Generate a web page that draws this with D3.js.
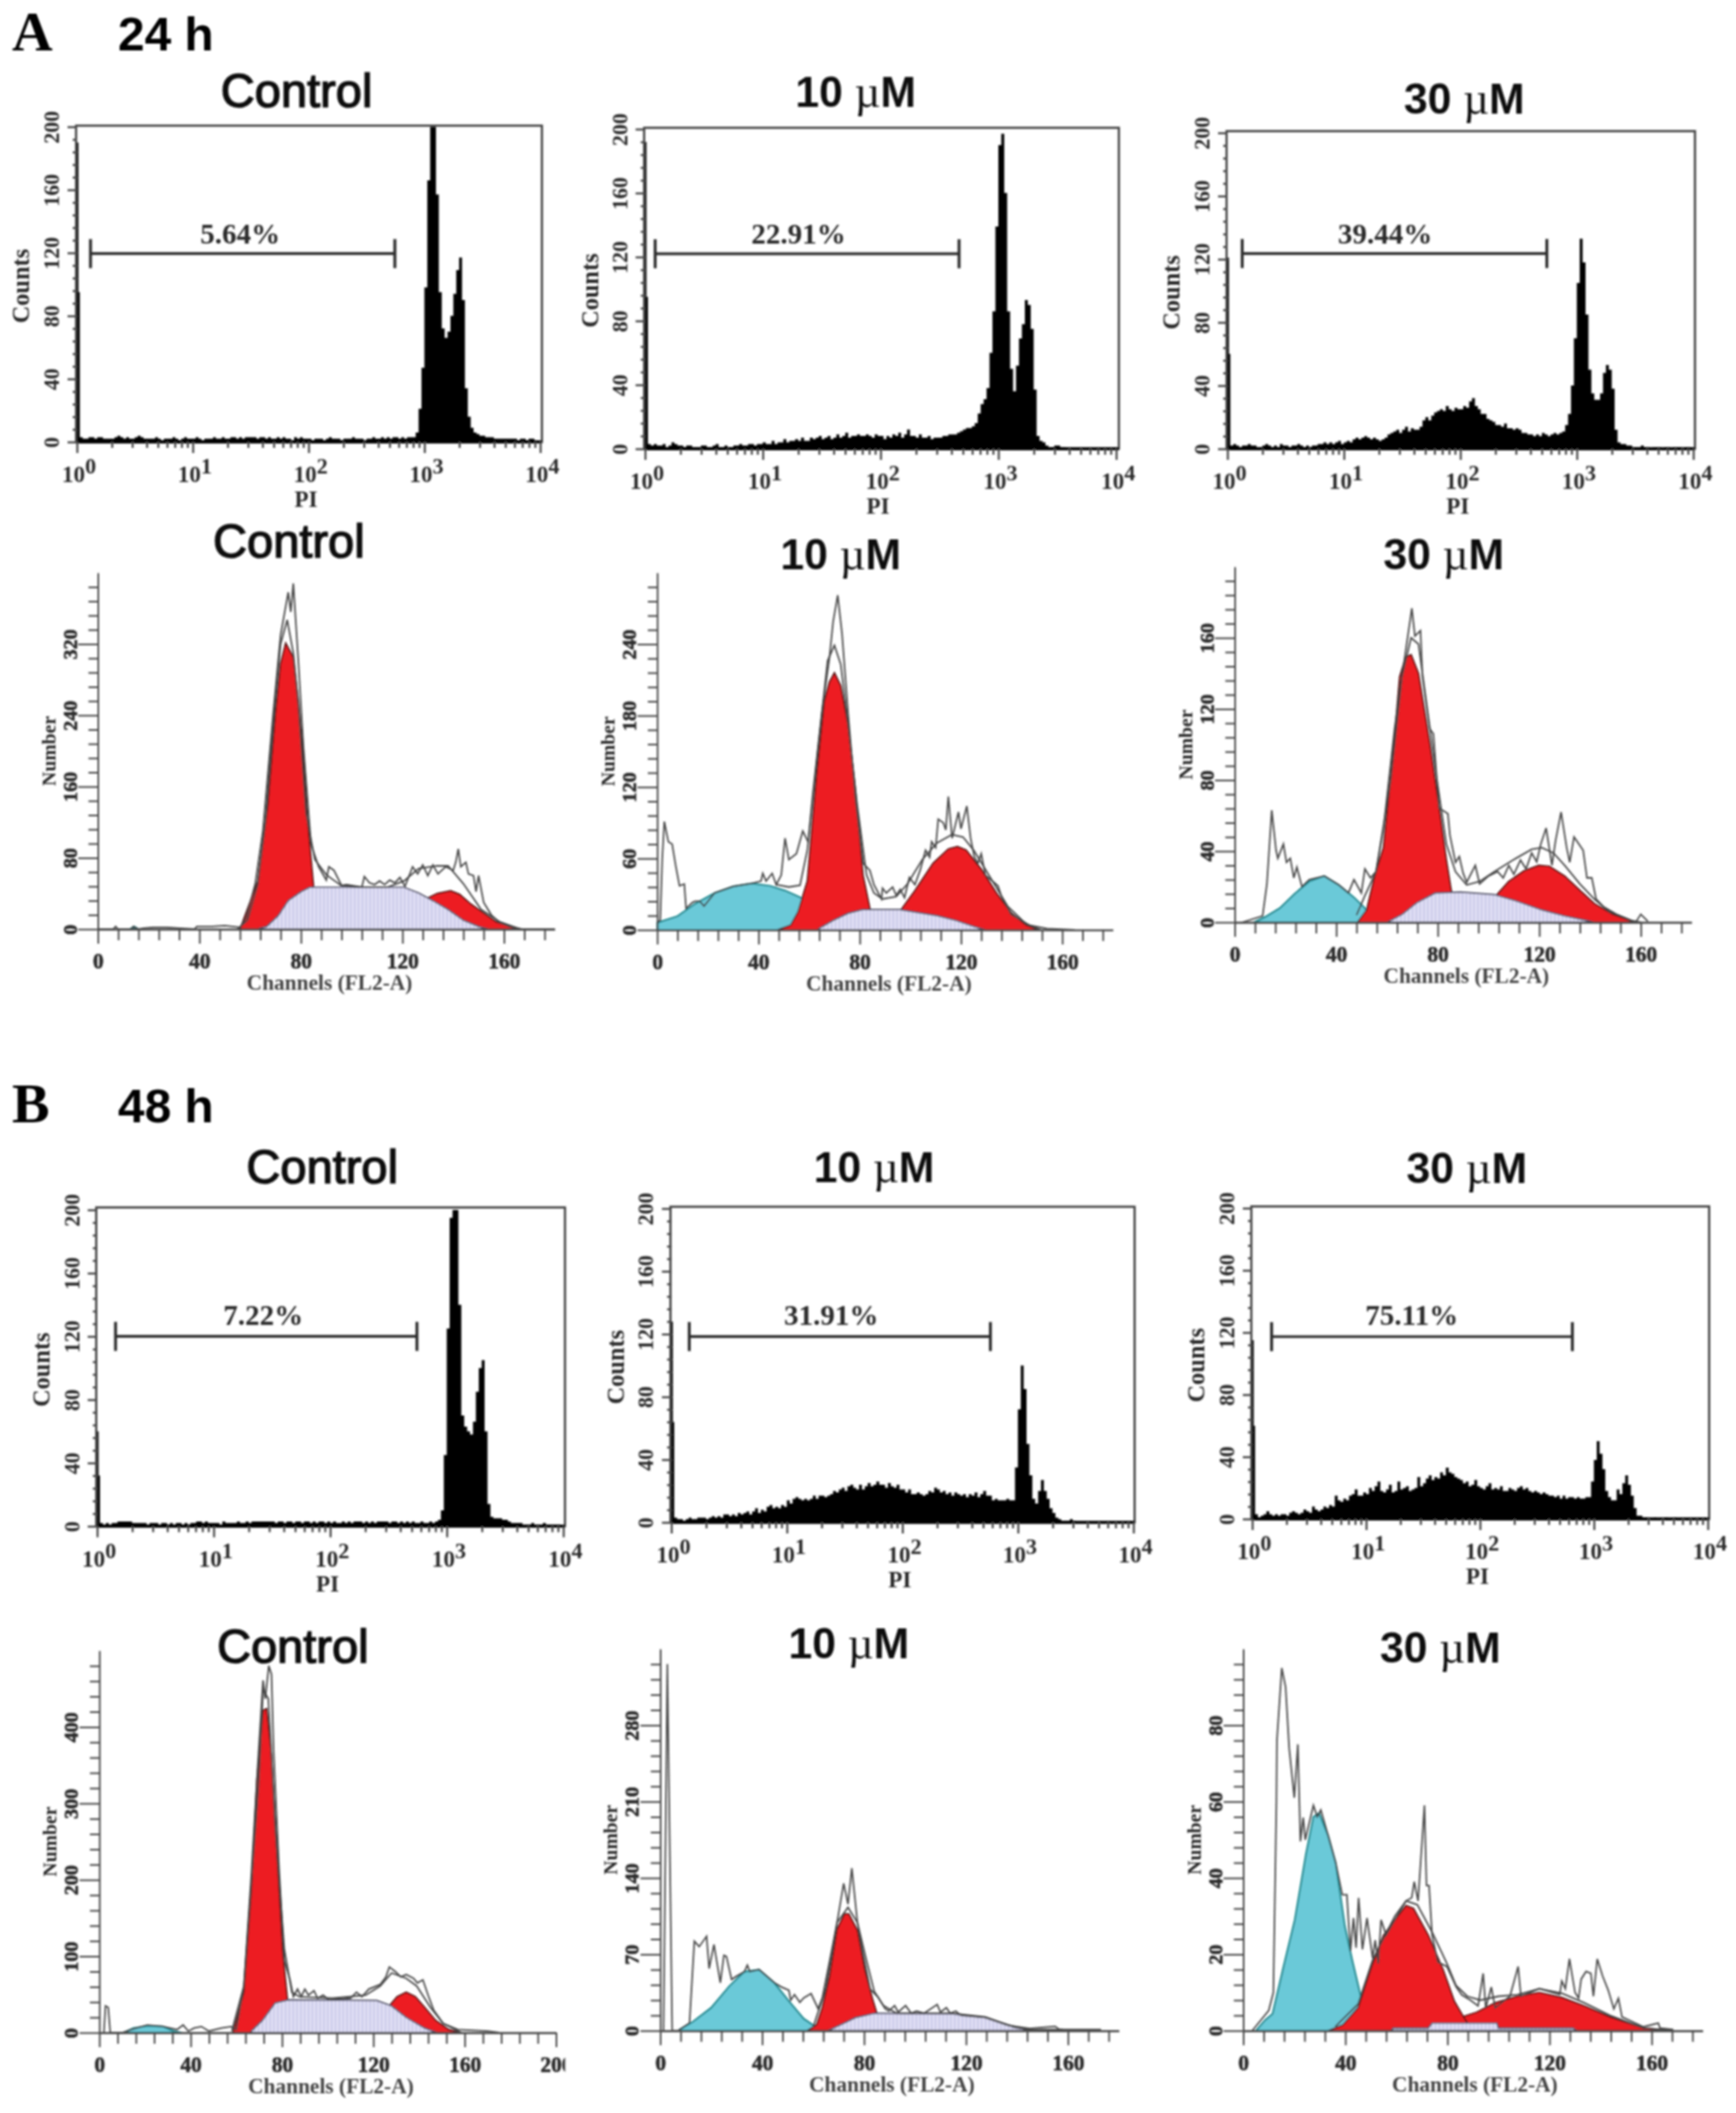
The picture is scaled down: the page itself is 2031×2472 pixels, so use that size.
<!DOCTYPE html>
<html>
<head>
<meta charset="utf-8">
<style>
  html, body { margin: 0; background: #fff; }
  text { fill: #2b2b2b; }
  .serif { font-family: "Liberation Serif", serif; font-weight: bold; }
  .sans { font-family: "Liberation Sans", sans-serif; }
  .tick line, .domain { stroke: #4a4a4a; }
</style>
</head>
<body>
<svg id="fig" width="2031" height="2472"></svg>
<script src="https://cdn.jsdelivr.net/npm/d3@7/dist/d3.min.js"></script>
<script>
// DNA histograms, one value per 1/40 of a log decade
const h24Control = [95,3,2,2,3,3,2,3,3,2,2,2,2,3,4,3,2,3,2,2,
  3,4,3,2,2,2,2,3,2,1,2,2,2,3,2,1,2,3,2,2,
  2,3,2,1,2,2,2,3,2,2,3,2,2,3,3,2,3,2,3,3,
  3,3,2,3,3,2,3,2,2,3,2,3,2,2,1,3,2,3,2,2,
  2,1,2,2,2,1,2,3,2,2,2,1,2,2,2,3,2,2,2,1,
  2,2,3,2,2,3,2,3,2,3,3,2,3,2,3,3,3,6,21,47,
  98,166,200,200,157,95,72,66,70,80,94,109,117,90,34,16,9,6,5,4,
  4,3,3,3,2,2,2,2,2,2,2,2,1,2,2,1,2,2,1,2]
const h24Low = [95,3,2,3,2,2,3,1,2,4,3,2,2,1,2,2,1,1,1,2,
  2,1,1,2,3,1,1,2,1,1,2,2,3,2,2,3,3,2,3,3,
  4,3,3,5,3,4,4,6,4,5,5,6,5,7,5,5,7,6,7,8,
  6,7,8,6,7,9,7,8,10,7,8,8,9,8,8,9,8,7,9,8,
  8,6,8,7,9,8,10,7,9,12,8,8,7,9,7,7,8,6,7,7,
  7,8,8,9,9,9,10,11,12,13,13,14,16,22,28,31,38,60,86,139,
  190,197,160,86,50,36,52,69,78,93,90,75,37,8,5,4,2,1,1,2,
  2,1,1,0,0,0,0,0,0,0,0,0,0,0,0,0,0,0,0,0]
const h24High = [60,2,3,2,1,2,2,3,2,2,1,1,2,3,2,1,2,1,3,2,
  2,1,2,2,3,2,1,2,1,2,2,3,3,4,3,4,3,4,5,3,
  4,5,4,6,7,6,7,8,7,6,7,6,5,6,7,9,10,11,12,10,
  12,14,11,13,12,12,14,18,20,18,21,23,24,25,24,27,25,24,26,25,
  25,27,26,30,32,27,25,22,22,19,18,17,15,15,14,16,13,13,12,13,
  12,10,10,9,9,8,9,8,10,9,8,9,10,9,10,11,15,22,40,70,
  105,133,118,85,50,35,31,31,35,48,53,50,38,12,4,3,3,2,2,1,
  1,1,2,1,1,0,1,1,1,0,1,1,0,1,1,1,0,1,1,0]
const h48Control = [32,2,1,2,1,2,2,3,3,3,3,3,2,2,2,2,2,1,2,2,
  2,1,2,2,1,2,1,2,2,1,2,1,2,2,3,3,2,3,2,2,
  2,2,1,3,2,2,2,2,3,2,2,3,2,3,3,3,3,3,3,3,
  3,2,3,3,2,3,3,2,3,3,2,3,3,2,3,2,3,3,2,3,
  2,3,2,2,3,2,3,2,3,3,3,2,3,2,3,2,3,3,3,3,
  2,3,3,2,3,2,3,2,3,2,2,3,2,2,3,2,3,4,10,45,
  125,195,200,200,140,70,63,60,58,66,85,100,105,60,14,6,5,5,5,4,
  4,3,2,2,2,2,1,1,1,2,1,1,1,2,1,1,1,1,1,1]
const h48Low = [64,3,2,2,1,2,3,2,2,3,3,3,2,3,4,3,4,3,5,5,
  4,5,4,6,5,6,7,5,7,9,6,8,7,10,11,9,10,9,11,10,
  14,12,15,16,15,14,15,14,15,17,15,17,17,16,17,18,20,19,21,22,
  20,23,24,22,21,24,21,23,25,23,24,26,24,24,22,25,23,22,24,21,
  21,19,21,18,18,19,18,17,18,20,19,22,21,19,20,18,19,17,19,18,
  17,18,16,18,17,19,16,18,20,17,17,14,15,14,14,14,15,14,14,35,
  72,100,85,50,30,15,12,20,27,20,15,9,6,3,2,1,1,1,2,1,
  0,0,0,0,0,0,0,0,0,0,0,0,0,0,0,0,0,0,0,0]
const h48High = [60,3,1,2,3,5,3,2,3,2,3,3,2,4,5,4,3,4,6,5,
  4,8,6,5,6,8,7,9,8,15,12,11,13,12,15,16,19,15,15,17,
  16,20,18,21,24,18,17,19,22,17,18,24,19,20,21,18,19,20,27,21,
  23,26,28,25,27,26,30,28,33,30,29,27,26,25,23,24,21,22,25,21,
  20,19,21,23,19,20,19,21,18,18,20,19,18,20,21,19,20,18,17,18,
  17,16,17,16,15,15,14,15,13,15,13,14,14,13,14,13,13,14,14,24,
  38,50,42,32,18,14,12,12,19,16,23,28,22,15,7,2,2,1,1,0,
  0,1,0,0,0,1,0,0,1,0,0,0,0,0,0,0,0,0,0,0]

// thin spike sitting on the 10^0 line of each histogram
const edgeSpikes = [190, 192, 121, 60, 128, 115]
const histSeries = [h24Control, h24Low, h24High, h48Control, h48Low, h48High]
const histTitles = ["Control", "10 µM", "30 µM", "Control", "10 µM", "30 µM"]
const gateLabels = ["5.64%", "22.91%", "39.44%", "7.22%", "31.91%", "75.11%"]
const gateStart = [1.31, 1.22, 1.34, 1.44, 1.43, 1.48]
const gateEnd = [556, 464, 553, 555, 578, 647]
const gateCount = [119.5, 122, 123.6, 120, 118.4, 117.3]
const decades = [1, 10, 100, 1000, 10000]
const countTicks = [0, 40, 80, 120, 160, 200]

// cell cycle fits, [channel, number]
const c24ControlRaw = [[0,0],[6,0],[7,3],[8,0],[13,0],[14,3],[16,0],[18,1],[22,2],[27,2],[32,1],[38,0],[39,3],[45,3],[50,4],[56,2],[58.5,13],[62,51],[65,110],[69,240],[72,330],[75,378],[76,356],[77,388],[79,300],[81,205],[84,95],[87,70],[90,55],[91,70],[93,66],[96,49],[98,50],[104,47],[105,59],[107,52],[109,50],[111,54],[113,50],[115,55],[117,52],[119,58],[121,48],[124,70],[126,62],[128,72],[130,60],[132,72],[134,62],[137,70],[140,66],[141,75],[142,90],[143,70],[145,75],[146,62],[148,60],[149,42],[150,60],[152,30],[155,16],[158,8],[162,3],[167,0],[180,0]]
const c24ControlFit = [[55,0],[59,10],[63,50],[66,120],[70,260],[72,320],[74.6,347],[77,310],[79,250],[82,130],[85.5,78],[90,61],[95.8,49],[104,47],[114,47],[120.6,54],[126.4,68],[133.7,71],[138,71],[144,51],[151,22],[158.5,8],[166.6,0]]
const c24ControlDebris = [[12.5,0],[14.3,3],[16,0]]
const c24ControlG1 = [[56,0],[63,54],[67,140],[70,243],[72,298],[74,321],[77,305],[79,256],[80.5,208],[82.6,123],[85,47],[88,30],[92,10],[96,0]]
const c24ControlS = [[63.6,1],[66.5,3],[71,15],[75,32],[80,42],[83.4,47],[120.6,47],[126.4,40.5],[132,32],[138,22],[144,10],[150,3],[154,0]]
const c24ControlG2 = [[126,0],[130,35],[133.7,40],[139,43],[142.5,39],[147,28],[151,20],[157,8],[163,3],[166.6,0]]

const c24LowRaw = [[0,6],[1.2,8],[2,60],[2.8,91],[4.4,74],[5.9,72],[7.3,54],[8.8,37],[10.7,38.5],[11.4,18],[13.9,23],[15,24],[16.8,24],[18.5,20],[22.7,31],[30,36.5],[37.3,39],[41,41],[41.7,47.5],[43,41],[45.4,47.5],[47,38],[49,46],[50.5,77],[52,59],[55,64],[57.5,83],[59.6,74],[61.5,115],[65,182],[68,228],[69.5,259],[71.3,281],[73,249],[75.4,182],[78.3,110],[81.3,56],[84,50],[85.6,38],[88.6,26],[89,35],[90.5,31],[93,36],[94.4,29],[96,34],[97.7,27],[99.6,44],[101.8,38],[104,51],[106,67],[107.6,61],[108.4,74],[110,69],[111,93],[113,90],[114,84],[115,112],[116.5,77],[119,99],[120,85],[122.3,104],[123.8,77],[125.3,61],[126.7,56],[128,64],[129.6,46],[132.4,41],[134.6,37],[136,28],[139.8,13],[147,4],[154,1],[165,0]]
const c24LowFit = [[47,38],[52,36],[56.4,37.5],[59.3,67],[63.7,156],[67.3,226],[70,239],[72.5,223],[75.4,172],[79,105],[82.7,46],[85.6,31],[89,26],[94.4,28],[98.8,38.5],[104.7,59],[110.5,73],[116.4,80],[120.8,78],[125,67],[131,46],[138.4,20],[145.7,5],[151.5,0]]
const c24LowDebris = [[0,6],[8,11.5],[15,22],[22.7,31],[30,36.5],[37.3,39],[44.6,37],[50.5,33],[57.8,26],[64,13],[70,2],[72,0]]
const c24LowG1 = [[47.6,0],[52.7,4],[55.6,15],[59.3,41],[63,131],[66,192],[68,208],[70,216],[72.5,205],[75.4,172],[78.3,118],[81.3,46],[84,18],[87,5],[90,0]]
const c24LowS = [[63.7,1],[69.5,8],[75.4,14],[81,17],[96,17],[110.5,12],[118,8],[125,3],[129.6,0]]
const c24LowG2 = [[92,0],[96,16],[101.8,33],[109,56],[115,68],[118.6,70],[122,67],[128,51],[134,31],[140,14],[145.7,4],[150.8,0]]

const c24HighRaw = [[3,0],[11,3.6],[12.7,21.6],[14.6,63],[16.3,40.5],[17,36],[19.2,44],[20.4,33.7],[21.9,36],[23.3,25],[24.5,31],[26.5,20],[29.4,24],[35.3,26],[41,21],[44.8,16.5],[47,24],[49.9,16.5],[51.3,30],[53.5,25],[55.7,28.5],[58.6,52.6],[63,109],[67.3,152],[69.8,176.6],[71,161],[73.2,164],[74,138],[76.8,109],[78.3,106],[80.5,64],[82,63],[84,61],[84.8,49],[87,33.7],[88.5,37],[90,27.7],[91.4,22.5],[94.8,32],[96.5,21.6],[100,26],[103.6,28.5],[105.8,25],[108,32],[110,27],[112.6,35],[114.8,30],[117,39],[119,34],[120.6,44],[122.7,53],[125,32],[126.4,45.7],[128.6,62],[130.8,42],[132,33.7],[133.7,48],[137.3,40.5],[138.8,25],[140.7,25],[142.4,13],[145.3,8.8],[150.4,4.5],[158,0],[160,4.5],[162.8,0.5]]
const c24HighFit = [[48,4],[51.3,15],[55.7,28.5],[61.5,80],[65.9,138],[69.5,160],[72.4,156.5],[75.4,125],[79,87],[83.4,44],[87,28.5],[91.4,21],[96.5,23],[102.3,28.5],[109.6,35],[117,41],[121,42],[125.6,39],[130,32],[136,21.6],[141.7,13],[147.5,6],[156.3,1],[160,0]]
const c24HighDebris = [[7.6,0],[12,3],[17.8,8],[23.6,16],[29.4,23],[35.3,26],[41,21],[47,14],[51.3,8],[55.7,0]]
const c24HighG1 = [[48.4,0],[52,7],[55,25],[58.6,42],[62.2,92],[65,138],[67.3,149],[69.5,150.5],[72.4,140],[76.8,101],[80.5,65],[83.4,35],[85.3,18],[88.5,4],[91.4,0]]
const c24HighS = [[60,0],[66,4.5],[71.7,11],[79,16.5],[89,17],[102.3,15.6],[111,12],[121,7],[130,3.6],[138.8,1],[141.7,0]]
const c24HighG2 = [[99,0],[103,15],[108,23],[114,29],[119.8,32],[124,31.5],[130,26],[136,18],[141.7,10.5],[149,4.5],[156.3,0.7],[159,0]]

const c48ControlRaw = [[2,0],[2.7,35],[3.9,33],[4.8,0],[10,0],[14,4],[21,10],[28,8],[34,4],[36.7,10],[39,2],[41.5,6],[44.7,8],[48,2],[53.5,6],[57.7,8],[60,4],[63.3,61],[66.6,208],[69,331],[71.7,461],[72.7,437],[74.2,480],[75.4,469],[76.3,371],[78.7,216],[81,94],[83.5,69],[85,47],[86.8,57],[88.4,47],[90,57],[91.6,49],[94,55],[95.6,45],[98,49],[100.5,43],[110,45],[112.6,53],[115,47],[118,57],[123,63],[125.5,73],[127,86],[129.6,80],[132,73],[134.4,76],[137.6,71],[139.3,65],[141.7,69],[144,49],[146.5,29],[150.6,12],[157,4],[170,2],[175,0]]
const c48ControlFit = [[58,2],[63.3,61],[69.8,327],[71.7,449],[74,437],[77,269],[81,110],[84.3,53],[87.6,47],[102,45],[116.6,49],[123,61],[128,78],[134.4,71],[139,61],[145,33],[150.6,12],[158.6,0]]
const c48ControlDebris = [[10.8,0],[14.9,6],[21.3,9],[27.8,8],[32.6,2],[36,0]]
const c48ControlG1 = [[58.5,0],[63.3,53],[66.6,188],[69,331],[71.7,422],[73.3,424],[75.4,363],[77.9,229],[80.3,106],[82.4,43],[84,20],[87.6,0]]
const c48ControlS = [[66.6,2],[71.4,16],[77,39],[82.7,43],[121.5,42],[128,35],[134.4,20],[142.5,6],[148,0]]
const c48ControlG2 = [[124,0],[127,35],[130.4,47],[134.4,53],[138.4,47],[142.5,33],[147.3,16],[153,4],[158.6,0]]

const c48LowRaw = [[1.3,0],[2.8,336],[4.7,0],[7,0],[11.5,7],[13.4,82],[15.3,77],[18.2,86.5],[19.2,57],[21.1,79],[23.6,44],[25,69],[26,68],[28,47],[30,50],[33,54],[34.2,60],[35.2,54],[38.8,56],[44.7,44],[47.6,40],[50.5,37],[51.2,28],[52.7,33],[54.8,26],[56.3,30],[59.2,34],[62,20],[63.6,30],[66.5,64],[69.4,99],[72,135],[73.7,116],[75.2,149],[77.4,99],[79.6,70],[82.4,38],[85.4,31],[88.3,20],[89.7,18],[92,23],[93.4,17],[96.3,23],[98.5,16],[100.6,18],[103.6,16],[108.7,24],[110,17],[112.3,21],[113.8,16],[116,18],[118,14],[127.6,12],[136.3,5],[145,2],[155,4],[156.7,1],[173,1]]
const c48LowFit = [[60,3],[65,38.5],[69.4,99],[73.7,113],[77.4,99],[81,64],[84,36],[87.6,23],[92.7,16],[114.5,16],[127.6,12.5],[139,3],[145,1],[158,1]]
const c48LowDebris = [[7.6,1],[12.7,8],[20,21],[27.2,41],[33,54],[38.8,56],[44.7,44],[50.5,27],[56.3,11],[60.7,4],[63.6,0]]
const c48LowG1 = [[57.7,0],[61.4,5.5],[63.6,21],[66.5,50],[69.4,93],[72.3,107],[74,107],[77.4,92],[80.3,56],[83.2,30],[85,16],[87.6,5.5],[91.2,0]]
const c48LowS = [[65.7,0],[70.8,5.5],[76.6,12],[84,16],[114.5,15.5],[127.6,12],[136.3,5.5],[145,0]]

const c48HighRaw = [[3.5,0],[10,5.3],[11.8,10],[13,60],[13.2,76],[15.1,95],[16.6,90],[18,74],[20,61],[21.4,75],[22.4,49.6],[23.5,55.8],[24.3,50],[27.5,59],[29,56],[30.4,57.8],[33.3,51],[36.2,44],[38.8,35.6],[40.6,35.6],[42,20.9],[43.2,29.5],[44.2,21.7],[45.2,34.8],[46.7,21.3],[48.5,29.5],[50.7,19],[51.7,23.7],[52.9,17.6],[54,29],[56,25],[59.4,29],[63.8,34],[66,34.8],[67,39],[68.5,34],[71,59],[71.8,38],[72.8,38],[74,25],[76.2,18],[79.8,16.8],[83.4,11.5],[85.6,9.4],[89,8],[92,6.5],[94,15],[95,6],[97.2,11.4],[98.7,6],[104.5,9],[107.7,16.8],[108.8,9],[116,11],[124,9.5],[124.8,13],[126.2,11],[127.8,18.8],[130,10],[131.4,8.5],[132.4,13.5],[134.3,15.5],[136.2,15],[137.2,9],[138.7,18.8],[140.8,14.3],[143,10.6],[145.2,5.7],[147,8.5],[148.4,3.6],[156.8,1],[162.6,2],[163.3,0.7],[168.5,0.3]]
const c48HighFit = [[36,1],[45,7],[50.7,18.5],[59.4,30],[63.8,34],[68.2,33],[74,25.8],[79.8,17.6],[83.4,11.8],[87.8,9],[92.9,8],[100,9],[107.4,9.4],[116,11],[124.8,9.8],[133.6,7.3],[143.7,4],[156.8,0.7],[168,0]]
const c48HighDebris = [[5,0],[8.6,2.8],[11.5,4.4],[15.8,16.8],[20.2,29],[24.6,46.3],[27.5,56],[29.7,57],[33.3,51],[36.2,44],[39.8,27.4],[42.7,18.4],[46.4,8],[50.7,1.5],[52,0]]
const c48HighG1 = [[33.3,0],[39,1.5],[45,6],[50.7,17.6],[55,25],[59.4,29],[63.8,32.8],[66.7,32],[72.5,25],[78.3,16],[82.7,7.7],[86.3,3.6],[90,0]]
const c48HighG2 = [[81,0],[82,2.8],[91.4,4.8],[98.7,7.3],[107.4,9],[116,10],[124.8,8.7],[133.6,6.5],[143.7,3.6],[156.8,0.7],[168.5,0]]
const c48HighS = [[58,0],[58.7,0.7],[72.5,0.7],[74,2],[99.4,2],[100,0.7],[129.2,0.7],[130.7,0]]

const cycleRaw = [c24ControlRaw, c24LowRaw, c24HighRaw, c48ControlRaw, c48LowRaw, c48HighRaw]
const cycleFit = [c24ControlFit, c24LowFit, c24HighFit, c48ControlFit, c48LowFit, c48HighFit]
const cycleDebris = [c24ControlDebris, c24LowDebris, c24HighDebris, c48ControlDebris, c48LowDebris, c48HighDebris]
const cycleG1 = [c24ControlG1, c24LowG1, c24HighG1, c48ControlG1, c48LowG1, c48HighG1]
const cycleS = [c24ControlS, c24LowS, c24HighS, c48ControlS, c48LowS, c48HighS]
const cycleG2 = [c24ControlG2, c24LowG2, c24HighG2, c48ControlG2, [], c48HighG2]
const cycleMax = [400, 300, 200, 500, 350, 100]
const cycleStep = [80, 60, 40, 100, 70, 20]
const channelMax = [180, 180, 180, 200, 180, 180]

// layout in page pixels
const histBox = [
  { left: 90, right: 632, frameRight: 634, top: 148.3, frameTop: 147, bottom: 517, titleX: 347, titleY: 125, gateDx: -3, gateDy: -12, countsX: -56 },
  { left: 754.6, right: 1305.8, frameRight: 1309, top: 151, frameTop: 149.5, bottom: 525, titleX: 1001, titleY: 125, gateDx: -10, gateDy: -12, countsX: -55 },
  { left: 1436, right: 1981, frameRight: 1983, top: 155.4, frameTop: 153.4, bottom: 525, titleX: 1713, titleY: 133, gateDx: -11, gateDy: -12, countsX: -56 },
  { left: 113.6, right: 659, frameRight: 661, top: 1415.4, frameTop: 1412.6, bottom: 1785.5, titleX: 377, titleY: 1384, gateDx: -3.5, gateDy: -13.5, countsX: -56 },
  { left: 785.4, right: 1326, frameRight: 1327.4, top: 1413.8, frameTop: 1411.8, bottom: 1781, titleX: 1022.6, titleY: 1382.5, gateDx: -10, gateDy: -13.5, countsX: -55 },
  { left: 1465, right: 1998, frameRight: 1999.6, top: 1413.4, frameTop: 1411.4, bottom: 1777, titleX: 1716, titleY: 1384, gateDx: -12, gateDy: -13.5, countsX: -56 }
]
const cycleBox = [
  { left: 114.5, right: 649, top: 670, bottom: 1087, titleX: 338, titleY: 652 },
  { left: 768.9, right: 1302, top: 670, bottom: 1087.9, titleX: 983.5, titleY: 666 },
  { left: 1444.5, right: 1979, top: 663, bottom: 1079, titleX: 1689, titleY: 666 },
  { left: 116.2, right: 650.5, top: 1931, bottom: 2378, titleX: 342.6, titleY: 1945 },
  { left: 772.4, right: 1309, top: 1929, bottom: 2375.7, titleX: 993, titleY: 1940 },
  { left: 1454.5, right: 1992, top: 1929, bottom: 2375.7, titleX: 1685, titleY: 1944.5 }
]

const svg = d3.select("#fig")
const defs = svg.append("defs")
defs.append("filter").attr("id", "soft")
  .attr("filterUnits", "userSpaceOnUse").attr("primitiveUnits", "userSpaceOnUse")
  .attr("x", 0).attr("y", 0).attr("width", 2031).attr("height", 2472)
  .append("feGaussianBlur").attr("stdDeviation", 0.8)
const hatch = defs.append("pattern").attr("id", "hatch").attr("patternUnits", "userSpaceOnUse")
  .attr("width", 4.5).attr("height", 4.5)
hatch.append("rect").attr("width", 4.5).attr("height", 4.5).attr("fill", "#e2e1f6")
hatch.append("line").attr("x1", 1).attr("x2", 1).attr("y1", 0).attr("y2", 4.5).attr("stroke", "#bdbce0").attr("stroke-width", 1.3)

const root = svg.append("g").attr("filter", "url(#soft)")

function title(label, x, y) {
  const t = root.append("text").attr("class", "sans").attr("x", x).attr("y", y)
    .attr("text-anchor", "middle").style("fill", "#111")
  if (label === "Control") {
    t.attr("font-size", 55).attr("stroke", "#111").attr("stroke-width", 1.6).text(label)
  } else {
    const parts = label.split("µ")
    t.attr("font-size", 50).attr("font-weight", "bold")
    t.append("tspan").text(parts[0])
    t.append("tspan").attr("font-family", "Liberation Serif").attr("font-weight", "normal").attr("font-size", 52).text("µ")
    t.append("tspan").text(parts[1])
  }
}

function rotateLabels(axisG, offset) {
  axisG.selectAll("text")
    .attr("x", null).attr("dy", null).attr("y", null)
    .attr("text-anchor", "middle")
    .attr("transform", "translate(" + offset + ",0) rotate(-90)")
}

function drawHist(i) {
  const b = histBox[i], values = histSeries[i]
  const x = d3.scaleLog().domain([1, 10000]).range([b.left, b.right])
  const y = d3.scaleLinear().domain([0, 200]).range([b.bottom, b.top])
  const g = root.append("g")

  g.append("path").datum(values)
    .attr("fill", "#000")
    .attr("d", d3.area().curve(d3.curveStepAfter)
      .x((d, k) => x(Math.pow(10, k / 40))).y0(b.bottom).y1(d => y(d)))
  g.append("line")
    .attr("x1", x(1) + 0.5).attr("x2", x(1) + 0.5)
    .attr("y1", y(0)).attr("y2", y(edgeSpikes[i]))
    .attr("stroke", "#000").attr("stroke-width", 2.6)

  g.append("rect")
    .attr("x", b.left - 1).attr("y", b.frameTop)
    .attr("width", b.frameRight - b.left + 1).attr("height", b.bottom - b.frameTop)
    .attr("fill", "none").attr("stroke", "#3c3c3c").attr("stroke-width", 2.5)
  g.append("line").attr("x1", b.left).attr("x2", b.frameRight).attr("y1", b.bottom).attr("y2", b.bottom)
    .attr("stroke", "#000").attr("stroke-width", 3.6)

  const minorLog = []
  decades.slice(0, 4).forEach(d => d3.range(2, 10).forEach(m => minorLog.push(d * m)))
  g.append("g").attr("transform", "translate(0," + b.bottom + ")")
    .call(d3.axisBottom(x).tickValues(minorLog).tickSize(7).tickSizeOuter(0).tickFormat(""))
    .call(a => a.select(".domain").remove())
    .selectAll("line").attr("stroke-width", 2.4)
  const xAxis = g.append("g").attr("transform", "translate(0," + b.bottom + ")")
    .call(d3.axisBottom(x).tickValues(decades).tickSize(13).tickSizeOuter(0).tickFormat(""))
  xAxis.select(".domain").remove()
  xAxis.selectAll("line").attr("stroke-width", 2.4)
  xAxis.selectAll(".tick").select("text")
    .attr("class", "serif").attr("y", 47).attr("dy", null).attr("font-size", 27)
    .attr("text-anchor", "middle").attr("dx", 2)
    .each(function(d) {
      const t = d3.select(this)
      t.append("tspan").text("10")
      t.append("tspan").attr("dy", -10).attr("font-size", 26).text(Math.round(Math.log10(d)))
    })

  const minorCount = d3.range(0, 201, 8).filter(v => v % 40)
  g.append("g").attr("transform", "translate(" + b.left + ",0)")
    .call(d3.axisLeft(y).tickValues(minorCount).tickSize(5).tickSizeOuter(0).tickFormat(""))
    .call(a => a.select(".domain").remove())
    .selectAll("line").attr("stroke-width", 2.4)
  const yAxis = g.append("g").attr("transform", "translate(" + b.left + ",0)")
    .call(d3.axisLeft(y).tickValues(countTicks).tickSize(11).tickSizeOuter(0))
  yAxis.select(".domain").remove()
  yAxis.selectAll("line").attr("stroke-width", 2.4)
  yAxis.selectAll("text").attr("class", "serif").attr("font-size", 25.5).attr("fill", null)
  rotateLabels(yAxis, -21)

  const mid = (x(gateStart[i]) + x(gateEnd[i])) / 2
  const gy = y(gateCount[i])
  g.append("line").attr("x1", x(gateStart[i])).attr("x2", x(gateEnd[i])).attr("y1", gy).attr("y2", gy)
    .attr("stroke", "#2b2b2b").attr("stroke-width", 3.2)
  ;[gateStart[i], gateEnd[i]].forEach(v => {
    g.append("line").attr("x1", x(v)).attr("x2", x(v)).attr("y1", gy - 17).attr("y2", gy + 17)
      .attr("stroke", "#2b2b2b").attr("stroke-width", 3.4)
  })
  g.append("text").attr("class", "serif").attr("x", mid + b.gateDx).attr("y", gy + b.gateDy)
    .attr("text-anchor", "middle").attr("font-size", 34).text(gateLabels[i])

  g.append("text").attr("class", "serif").attr("font-size", 28.5).attr("text-anchor", "middle")
    .attr("transform", "translate(" + (b.left + b.countsX) + "," + ((b.top + b.bottom) / 2 + 2) + ") rotate(-90)")
    .text("Counts")
  g.append("text").attr("class", "serif").attr("font-size", 27).attr("text-anchor", "middle")
    .attr("x", (b.left + b.right) / 2 - 3).attr("y", b.bottom + 76).text("PI")

  title(histTitles[i], b.titleX, b.titleY)
}

function drawCycle(i) {
  const b = cycleBox[i]
  const x = d3.scaleLinear().domain([0, channelMax[i]]).range([b.left, b.right])
  const y = d3.scaleLinear().domain([0, cycleMax[i]]).range([b.bottom, b.top])
  const g = root.append("g")
  const area = d3.area().x(d => x(d[0])).y0(b.bottom).y1(d => y(d[1]))
  const line = d3.line().x(d => x(d[0])).y(d => y(d[1]))

  g.append("path").attr("d", area(cycleDebris[i])).attr("fill", "#6bc9d8").attr("stroke", "#0c8389").attr("stroke-width", 2)
  g.append("path").attr("d", area(cycleG2[i])).attr("fill", "#ed1c24").attr("stroke", "#4a1010").attr("stroke-width", 1.7)
  g.append("path").attr("d", area(cycleG1[i])).attr("fill", "#ed1c24").attr("stroke", "#4a1010").attr("stroke-width", 1.7)
  g.append("path").attr("d", area(cycleS[i])).attr("fill", "url(#hatch)").attr("stroke", "#4a4a60").attr("stroke-width", 1.7)
  g.append("path").attr("d", line(cycleFit[i])).attr("fill", "none").attr("stroke", "#444").attr("stroke-width", 1.8)
  g.append("path").attr("d", line(cycleRaw[i])).attr("fill", "none").attr("stroke", "#444").attr("stroke-width", 1.8)

  const step = cycleStep[i], top = cycleMax[i]
  const minorY = d3.range(0, top, step / 5).filter(v => v % step)
  const majorY = d3.range(0, top, step)
  g.append("g").attr("transform", "translate(" + b.left + ",0)")
    .call(d3.axisLeft(y).tickValues(minorY).tickSize(11).tickSizeOuter(0).tickFormat(""))
    .call(a => a.select(".domain").remove())
    .selectAll("line").attr("stroke-width", 2)
  const yAxis = g.append("g").attr("transform", "translate(" + b.left + ",0)")
    .call(d3.axisLeft(y).tickValues(majorY).tickSize(23).tickSizeOuter(0))
  yAxis.selectAll("line").attr("stroke-width", 2)
  yAxis.select(".domain").attr("stroke-width", 2)
  yAxis.selectAll("text").attr("class", "serif").attr("font-size", 23.5).attr("font-weight", "normal").attr("stroke", "#2b2b2b").attr("stroke-width", 0.7)
  rotateLabels(yAxis, -25)

  const minorX = d3.range(0, channelMax[i] + 1, 8).filter(v => v % 40)
  g.append("g").attr("transform", "translate(0," + b.bottom + ")")
    .call(d3.axisBottom(x).tickValues(minorX).tickSize(13).tickSizeOuter(0).tickFormat(""))
    .call(a => a.select(".domain").remove())
    .selectAll("line").attr("stroke-width", 2)
  const xAxis = g.append("g").attr("transform", "translate(0," + b.bottom + ")")
    .call(d3.axisBottom(x).tickValues(d3.range(0, channelMax[i] + 1, 40)).tickSize(17).tickSizeOuter(0))
  xAxis.selectAll("line").attr("stroke-width", 2)
  xAxis.select(".domain").attr("stroke-width", 2.4)
  xAxis.selectAll("text").attr("class", "serif").attr("font-size", 25).attr("font-weight", "normal")
    .attr("stroke", "#2b2b2b").attr("stroke-width", 0.7).attr("y", 46).attr("dy", null)

  g.append("text").attr("class", "serif").attr("font-size", 25).attr("text-anchor", "middle")
    .attr("x", b.left + 271).attr("y", b.bottom + 71).style("fill", "#444").text("Channels (FL2-A)")
  g.append("text").attr("class", "serif").attr("font-size", 23).attr("text-anchor", "middle")
    .attr("transform", "translate(" + (b.left - 50) + "," + ((b.top + b.bottom) / 2) + ") rotate(-90)")
    .text("Number")

  if (channelMax[i] === 200) {
    // the source figure crops the last label at the panel edge
    g.append("rect").attr("x", b.right + 11).attr("y", b.bottom + 20).attr("width", 40).attr("height", 34).attr("fill", "#fff")
  }
  title(histTitles[i], b.titleX, b.titleY)
}

d3.range(6).forEach(drawHist)
d3.range(6).forEach(drawCycle)

// panel letters and time points
root.append("text").attr("x", 14).attr("y", 59).attr("font-family", "Liberation Serif").attr("font-weight", "bold").attr("font-size", 66).style("fill", "#000").text("A")
root.append("text").attr("x", 138).attr("y", 59).attr("class", "sans").attr("font-weight", "bold").attr("font-size", 56).style("fill", "#000").text("24 h")
root.append("text").attr("x", 14).attr("y", 1313).attr("font-family", "Liberation Serif").attr("font-weight", "bold").attr("font-size", 66).style("fill", "#000").text("B")
root.append("text").attr("x", 138).attr("y", 1313).attr("class", "sans").attr("font-weight", "bold").attr("font-size", 56).style("fill", "#000").text("48 h")
</script>
</body>
</html>
